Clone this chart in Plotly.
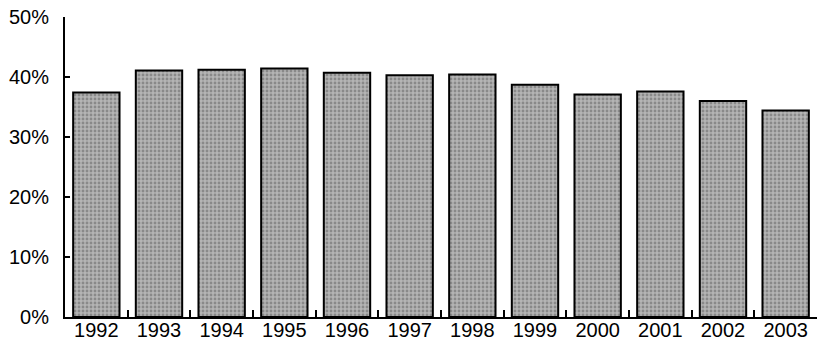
import plotly.graph_objects as go

years = ["1992", "1993", "1994", "1995", "1996", "1997", "1998", "1999", "2000", "2001", "2002", "2003"]
shares = [37.4, 41.1, 41.2, 41.4, 40.7, 40.3, 40.4, 38.7, 37.1, 37.6, 36.0, 34.4]
y_ticks = [0, 10, 20, 30, 40, 50]
y_tick_labels = ["0%", "10%", "20%", "30%", "40%", "50%"]

fig = go.Figure(go.Bar(
    x=years, y=shares,
    marker=dict(
        color="#a0a0a0",
        line=dict(color="black", width=2),
        pattern=dict(shape=".", fgcolor="#5e5e5e", bgcolor="#b4b4b4", size=4, solidity=0.4),
    ),
))

fig.update_layout(
    width=819, height=343,
    margin=dict(l=65, r=2, t=17, b=26),
    paper_bgcolor="white", plot_bgcolor="white",
    bargap=0.26, showlegend=False,
    font=dict(family="Liberation Sans, Arial, sans-serif", color="black", size=20),
)
fig.update_xaxes(
    showline=True, linecolor="black", linewidth=2,
    ticks="inside", tickson="boundaries", ticklen=7, tickwidth=2, tickcolor="black",
    showgrid=False, tickfont=dict(size=20), ticklabelstandoff=-6, automargin=False,
)
fig.update_yaxes(
    range=[0, 50], tickvals=y_ticks, ticktext=y_tick_labels,
    showline=True, linecolor="black", linewidth=2,
    ticks="inside", ticklen=5, tickwidth=2, tickcolor="black",
    showgrid=False, zeroline=False, ticklabelstandoff=10, automargin=False,
)

fig.write_html("out.html", config={"displayModeBar": False},
               post_script="document.body.style.margin='0';")
